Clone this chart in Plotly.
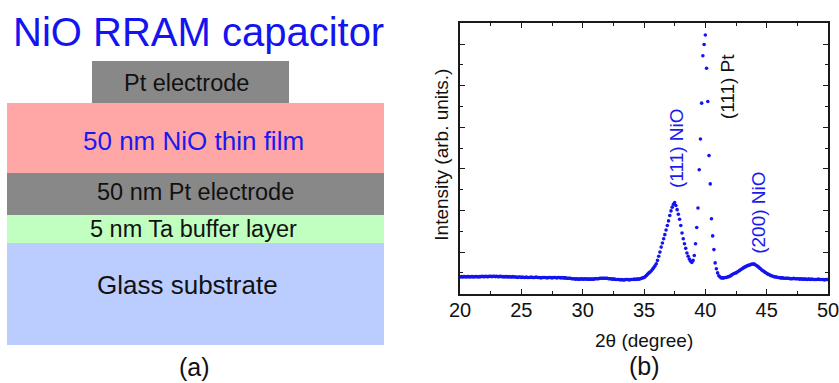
import plotly.graph_objects as go

# ---------------- data ----------------
two_theta_start = 20.0
two_theta_step = 0.1
intensity = [
    # 20.0 - 24.9
    0.40,0.41,0.40,0.41,0.41,0.40,0.41,0.41,0.40,0.41,
    0.41,0.40,0.41,0.41,0.41,0.40,0.41,0.41,0.42,0.41,
    0.41,0.42,0.41,0.41,0.42,0.42,0.41,0.42,0.42,0.41,
    0.42,0.41,0.41,0.42,0.41,0.41,0.40,0.41,0.41,0.40,
    0.41,0.40,0.40,0.41,0.40,0.40,0.40,0.39,0.40,0.40,
    # 25.0 - 29.9
    0.39,0.40,0.39,0.39,0.40,0.39,0.39,0.39,0.40,0.39,
    0.39,0.39,0.40,0.39,0.39,0.39,0.38,0.39,0.39,0.39,
    0.39,0.38,0.39,0.39,0.39,0.38,0.39,0.39,0.39,0.38,
    0.39,0.39,0.38,0.39,0.38,0.38,0.38,0.37,0.37,0.37,
    0.37,0.36,0.36,0.36,0.35,0.36,0.35,0.35,0.35,0.36,
    # 30.0 - 34.9
    0.35,0.35,0.36,0.35,0.35,0.35,0.35,0.35,0.35,0.35,
    0.36,0.36,0.36,0.36,0.37,0.37,0.37,0.37,0.37,0.37,
    0.37,0.36,0.36,0.36,0.35,0.35,0.35,0.34,0.34,0.34,
    0.34,0.33,0.34,0.33,0.33,0.34,0.34,0.34,0.33,0.34,
    0.34,0.34,0.35,0.34,0.35,0.35,0.35,0.36,0.37,0.38,
    # 35.0 - 39.9
    0.39,0.41,0.44,0.47,0.50,0.52,0.55,0.59,0.63,0.67,
    0.72,0.80,0.90,1.00,1.12,1.22,1.32,1.42,1.53,1.64,
    1.75,1.88,1.99,2.08,2.15,2.19,2.12,2.02,1.91,1.79,
    1.64,1.46,1.32,1.20,1.09,0.98,0.90,0.83,0.78,0.75,
    0.80,0.92,1.20,1.59,2.06,2.98,3.72,4.58,5.72,5.99,
    # 40.0 - 44.9
    6.22,5.42,4.62,3.32,2.64,1.80,1.39,1.06,0.74,0.60,
    0.50,0.43,0.40,0.38,0.38,0.38,0.39,0.39,0.40,0.41,
    0.42,0.44,0.46,0.48,0.49,0.50,0.52,0.54,0.56,0.58,
    0.60,0.62,0.64,0.65,0.67,0.68,0.69,0.70,0.71,0.71,
    0.71,0.69,0.67,0.65,0.62,0.60,0.57,0.55,0.53,0.51,
    # 45.0 - 50.0
    0.49,0.47,0.46,0.44,0.43,0.42,0.41,0.40,0.40,0.39,
    0.39,0.38,0.38,0.38,0.37,0.37,0.37,0.37,0.37,0.36,
    0.36,0.36,0.37,0.36,0.36,0.36,0.36,0.35,0.36,0.35,
    0.35,0.35,0.35,0.34,0.35,0.35,0.34,0.35,0.34,0.34,
    0.34,0.34,0.35,0.34,0.34,0.34,0.34,0.33,0.34,0.34,
    0.34,
]
two_theta = [round(two_theta_start + i * two_theta_step, 1) for i in range(len(intensity))]

x_tick_values = [20, 25, 30, 35, 40, 45, 50]
x_tick_labels = ["20", "25", "30", "35", "40", "45", "50"]

peak_labels = ["(111) NiO", "(111) Pt", "(200) NiO"]

layer_labels = ["Pt electrode", "50 nm NiO thin film", "50 nm Pt electrode",
                "5 nm Ta buffer layer", "Glass substrate"]

# ---------------- layout helpers ----------------
W, H = 839, 383
FONT = "Arial, 'Liberation Sans', sans-serif"


def px(x):
    return x / W


def py(y):
    return 1 - y / H


fig = go.Figure()

fig.add_trace(go.Scatter(
    x=two_theta, y=intensity, mode="markers",
    marker=dict(size=3.6, color="rgb(20,20,240)", line=dict(width=0)),
    showlegend=False, hoverinfo="skip",
))

axis_common = dict(
    showline=True, linecolor="#1a1a1a", linewidth=1.6, mirror="ticks",
    ticks="inside", tickcolor="#1a1a1a", tickwidth=1.4, showgrid=False,
    zeroline=False, automargin=False,
)

fig.update_xaxes(
    domain=[px(460), px(828)], range=[20, 50],
    tickvals=x_tick_values, ticktext=x_tick_labels, ticklen=5,
    tickfont=dict(family=FONT, size=20, color="#111"),
    ticklabeloverflow="allow", ticklabelstandoff=-3,
    minor=dict(dtick=2.5, tick0=20, ticks="inside", ticklen=3, tickcolor="#1a1a1a", tickwidth=1.4),
    **axis_common,
)
fig.update_yaxes(
    domain=[py(293.7), py(23.3)], range=[0, 6.5],
    tick0=0, dtick=1, ticklen=5, showticklabels=False,
    minor=dict(dtick=0.5, tick0=0, ticks="inside", ticklen=3, tickcolor="#1a1a1a", tickwidth=1.4),
    **axis_common,
)

shapes = []
annotations = []

# ---------- left schematic ----------
layers = [
    # (x0, x1, y0, y1, fill, text colour, font size, text x, text y)
    (92, 289, 61, 103, "#888888", "#111111", 23.5, 186, 83),
    (7, 384, 103, 173, "#FFA6A6", "#1a1aee", 26, 193, 141),
    (7, 384, 173, 215, "#888888", "#111111", 23.5, 195, 192),
    (7, 384, 215, 243, "#C0FFC0", "#111111", 23.5, 193, 229),
    (7, 384, 243, 345, "#BBCCFF", "#111111", 26, 187.5, 285),
]
for (x0, x1, y0, y1, fill, tcol, fs, tx, ty), lab in zip(layers, layer_labels):
    shapes.append(dict(type="rect", xref="paper", yref="paper",
                       x0=px(x0), x1=px(x1), y0=py(y1), y1=py(y0),
                       fillcolor=fill, line=dict(width=0), layer="below"))
    annotations.append(dict(text=lab, xref="paper", yref="paper", x=px(tx), y=py(ty),
                            xanchor="center", yanchor="middle", showarrow=False,
                            font=dict(family=FONT, size=fs, color=tcol)))

annotations.append(dict(text="NiO RRAM capacitor", xref="paper", yref="paper",
                        x=px(198), y=py(32), xanchor="center", yanchor="middle",
                        showarrow=False, font=dict(family=FONT, size=40, color="#1414f0")))
annotations.append(dict(text="(a)", xref="paper", yref="paper", x=px(194), y=py(367),
                        xanchor="center", yanchor="middle", showarrow=False,
                        font=dict(family=FONT, size=25, color="#111")))

# ---------- right chart texts ----------
annotations.append(dict(text="(b)", xref="paper", yref="paper", x=px(644), y=py(366),
                        xanchor="center", yanchor="middle", showarrow=False,
                        font=dict(family=FONT, size=25, color="#111")))
annotations.append(dict(text="2θ (degree)", xref="paper", yref="paper", x=px(644), y=py(340),
                        xanchor="center", yanchor="middle", showarrow=False,
                        font=dict(family=FONT, size=19, color="#111")))
annotations.append(dict(text="Intensity (arb. units.)", xref="paper", yref="paper",
                        x=px(440.7), y=py(155), xanchor="center", yanchor="middle",
                        textangle=-90, showarrow=False,
                        font=dict(family=FONT, size=19, color="#111")))

peak_pos = [(676.7, 148.3, "#1a1aee"), (727.5, 86.7, "#111111"), (758.3, 212.5, "#1a1aee")]
for lab, (tx, ty, col) in zip(peak_labels, peak_pos):
    annotations.append(dict(text=lab, xref="paper", yref="paper", x=px(tx), y=py(ty),
                            xanchor="center", yanchor="middle", textangle=-90,
                            showarrow=False, font=dict(family=FONT, size=19, color=col)))

fig.update_layout(
    width=W, height=H, autosize=False,
    margin=dict(l=0, r=0, t=0, b=0),
    paper_bgcolor="white", plot_bgcolor="white",
    shapes=shapes, annotations=annotations,
)

fig.write_html("out.html")
